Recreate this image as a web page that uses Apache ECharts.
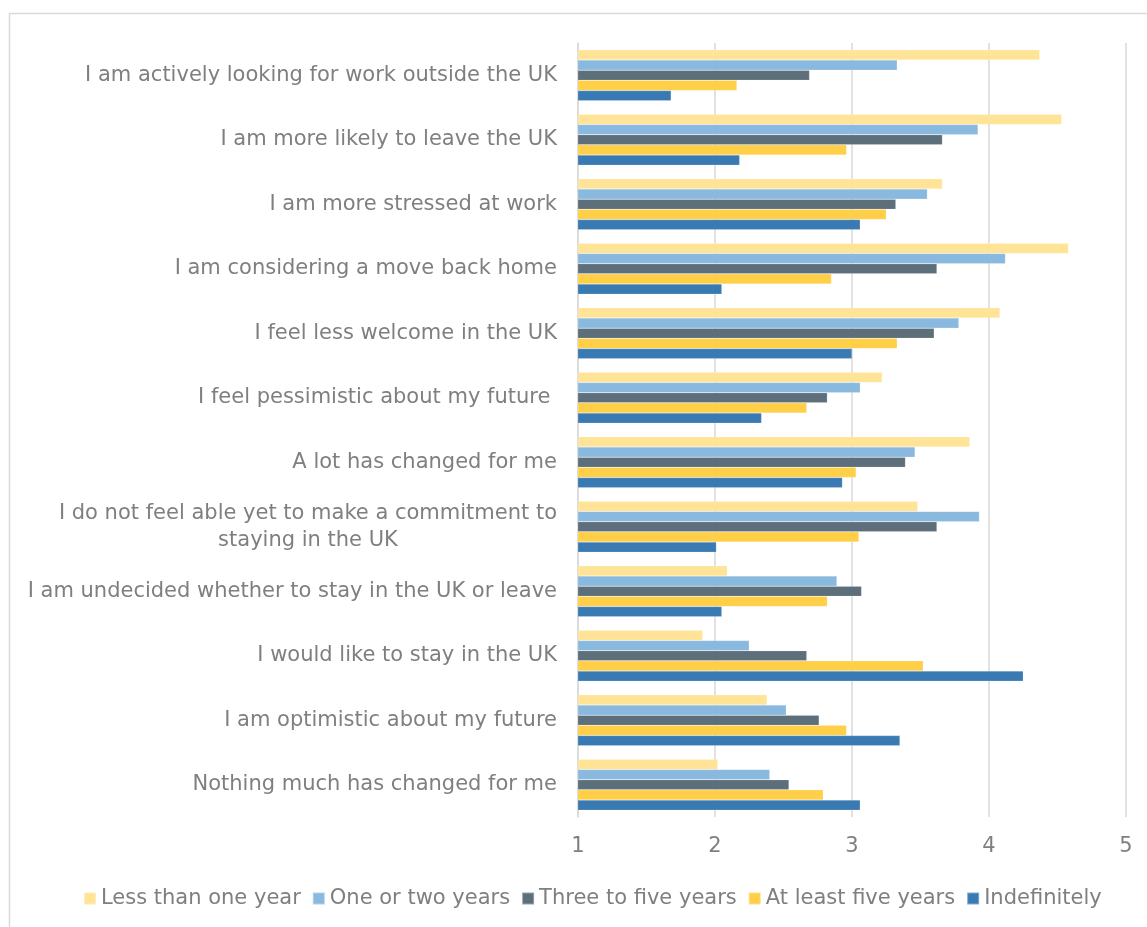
<!DOCTYPE html>
<html>
<head>
<meta charset="utf-8">
<script src="https://cdn.jsdelivr.net/npm/echarts@6/dist/echarts.min.js"></script>
<style>
  html, body { margin: 0; padding: 0; background: #ffffff; }
  #chart { width: 1147px; height: 927px; }
</style>
</head>
<body>
<div id="chart"></div>
<script>
// Survey statements, listed top to bottom
const categories = [
  'I am actively looking for work outside the UK',
  'I am more likely to leave the UK',
  'I am more stressed at work',
  'I am considering a move back home',
  'I feel less welcome in the UK',
  'I feel pessimistic about my future ',
  'A lot has changed for me',
  'I do not feel able yet to make a commitment to\nstaying in the UK',
  'I am undecided whether to stay in the UK or leave',
  'I would like to stay in the UK',
  'I am optimistic about my future',
  'Nothing much has changed for me'
];

// Intended length of stay groups
const seriesNames = [
  'Less than one year',
  'One or two years',
  'Three to five years',
  'At least five years',
  'Indefinitely'
];

// Mean agreement scores (1–5) per group, in category order
const lessThanOneYear = [4.37, 4.53, 3.66, 4.58, 4.08, 3.22, 3.86, 3.48, 2.09, 1.91, 2.38, 2.02];
const oneOrTwoYears   = [3.33, 3.92, 3.55, 4.12, 3.78, 3.06, 3.46, 3.93, 2.89, 2.25, 2.52, 2.40];
const threeToFive     = [2.69, 3.66, 3.32, 3.62, 3.60, 2.82, 3.39, 3.62, 3.07, 2.67, 2.76, 2.54];
const atLeastFive     = [2.16, 2.96, 3.25, 2.85, 3.33, 2.67, 3.03, 3.05, 2.82, 3.52, 2.96, 2.79];
const indefinitely    = [1.68, 2.18, 3.06, 2.05, 3.00, 2.34, 2.93, 2.01, 2.05, 4.25, 3.35, 3.06];

// Value axis ticks
const xTicks = [1, 2, 3, 4, 5];

const seriesValues = [lessThanOneYear, oneOrTwoYears, threeToFive, atLeastFive, indefinitely];
const seriesColors = ['#FFE497', '#89B9DE', '#5D6F7B', '#FFCF47', '#3A7AB2'];

const FONT = 'DejaVu Sans';
const TEXT_COLOR = '#7f7f7f';

const chart = echarts.init(document.getElementById('chart'), null, { renderer: 'canvas' });

const option = {
  backgroundColor: '#ffffff',
  animation: false,
  graphic: [{
    type: 'rect',
    silent: true,
    shape: { x: 9.5, y: 13.5, width: 1200, height: 1000 },
    style: { fill: 'none', stroke: '#d9d9d9', lineWidth: 1.5 }
  }],
  legend: {
    data: seriesNames,
    bottom: 13,
    left: 78,
    icon: 'rect',
    itemWidth: 12,
    itemHeight: 12,
    itemGap: 11,
    textStyle: { color: TEXT_COLOR, fontFamily: FONT, fontSize: 21 }
  },
  grid: { left: 578, right: 21, top: 43, bottom: 110, containLabel: false },
  xAxis: {
    type: 'value',
    min: xTicks[0],
    max: xTicks[xTicks.length - 1],
    interval: 1,
    axisLine: { show: false },
    axisTick: { show: false },
    axisLabel: { color: TEXT_COLOR, fontFamily: FONT, fontSize: 21, margin: 19 },
    splitLine: { show: true, lineStyle: { color: '#d9d9d9', width: 1.5 } }
  },
  yAxis: {
    type: 'category',
    inverse: true,
    data: categories,
    axisLine: { show: true, lineStyle: { color: '#d9d9d9', width: 1.5 } },
    axisTick: { show: false },
    axisLabel: {
      margin: 21,
      formatter: function (v) {
        return v.split('\n').map(function (s) { return '{c|' + s + '}'; }).join('\n');
      },
      rich: {
        c: { align: 'center', color: TEXT_COLOR, fontFamily: FONT, fontSize: 21, lineHeight: 27 }
      }
    }
  },
  series: seriesNames.map(function (name, i) {
    return {
      name: name,
      type: 'bar',
      data: seriesValues[i],
      barGap: '0%',
      barCategoryGap: '21%',
      itemStyle: { color: seriesColors[i], borderColor: 'rgba(255,255,255,0.35)', borderWidth: 0.5 }
    };
  })
};

chart.setOption(option);
</script>
</body>
</html>
